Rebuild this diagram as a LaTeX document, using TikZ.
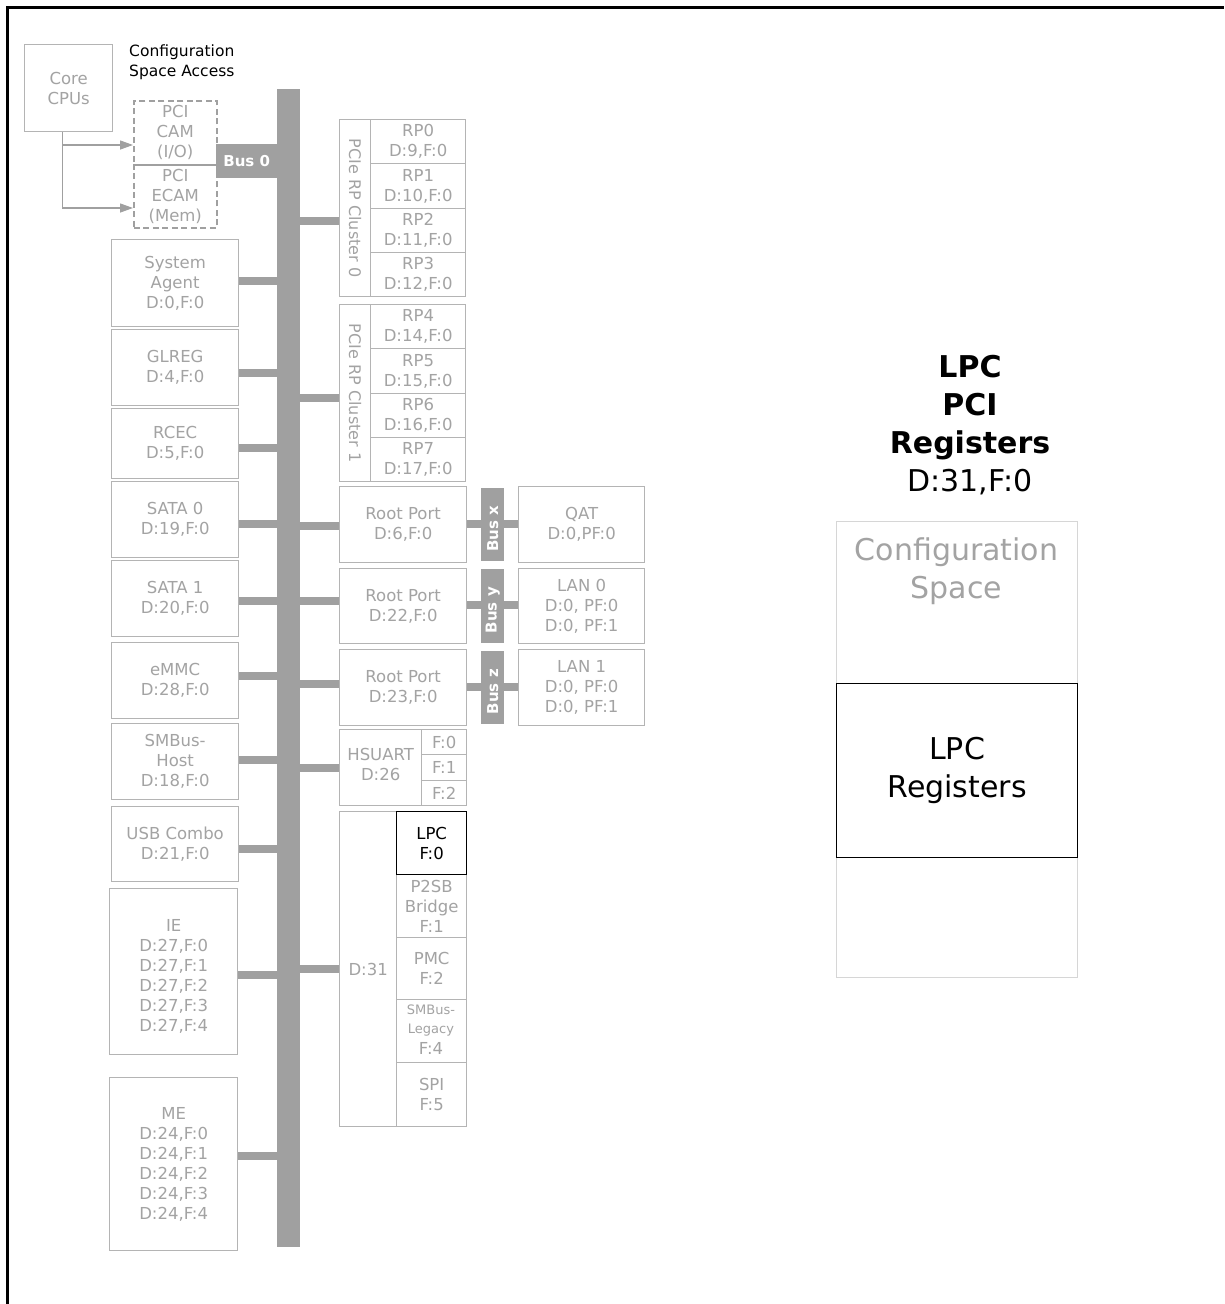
\documentclass[tikz,border=0pt]{standalone}
\usepackage{fontspec}
\setmainfont{DejaVu Sans}
\usetikzlibrary{arrows.meta}
\definecolor{busgray}{HTML}{A0A0A0}
\definecolor{boxgray}{HTML}{B4B4B4}
\definecolor{txtgray}{HTML}{A3A3A3}
\definecolor{lightbox}{HTML}{D6D6D6}
\begin{document}
\begin{tikzpicture}[x=1pt,y=-1pt,
  gbox/.style={draw=boxgray, line width=1.3pt, text=txtgray, inner sep=0pt, anchor=north west, align=center, font=\fontsize{16.5}{20}\selectfont},
  dbox/.style={gbox, draw=busgray, dash pattern=on 6pt off 3.5pt, line width=1.5pt},
  kbox/.style={gbox, draw=black, text=black},
  gtext/.style={text=txtgray, inner sep=0pt, align=center, font=\fontsize{16.5}{20}\selectfont},
  busbar/.style={fill=busgray, inner sep=0pt, anchor=north west, text=white, font=\bfseries\fontsize{15}{18}\selectfont},
  stub/.style={draw=busgray, line width=8.5pt},
  garrow/.style={draw=busgray, line width=1.3pt, -{Triangle[length=13pt,width=9pt]}},
  rlabel/.style={text=txtgray, font=\fontsize{16}{20}\selectfont, inner sep=0pt},
  smalltxt/.style={text=txtgray, font=\fontsize{13}{19}\selectfont, inner sep=0pt}
]
\useasboundingbox (0,0) rectangle (1224,1304);
\fill[white] (0,0) rectangle (1224,1304);
\draw[line width=3pt] (7,1304) -- (7,7) -- (1224,7);

% ---------- top-left: CPUs and config access
\node[gbox, minimum width=88pt, minimum height=87pt] (cpu) at (24,44) {Core\\CPUs};
\node[anchor=west, align=left, inner sep=0pt, font=\fontsize{15.5}{20}\selectfont] (csa) at (129,62) {Configuration\\Space Access};
\node[dbox, minimum width=83pt, minimum height=64pt] (cam) at (133,100) {PCI\\CAM\\(I/O)};
\node[dbox, minimum width=83pt, minimum height=63pt] (ecam) at (133,164) {PCI\\ECAM\\(Mem)};
\draw[garrow] ([xshift=-6pt]cpu.south) |- (cam.west |- 0,145);
\draw[garrow] ([xshift=-6pt]cpu.south) |- (ecam.west |- 0,208);

% ---------- main bus
\node[busbar, minimum width=23pt, minimum height=1158pt] (bus) at (277,89) {};
\node[busbar, minimum width=61pt, minimum height=34pt] (bus0) at (216,144) {Bus 0};

% ---------- left column
\node[gbox, minimum width=127pt, minimum height=87pt] (sa) at (111,239) {System\\Agent\\D:0,F:0};
\node[gbox, minimum width=127pt, minimum height=76pt] (glreg) at (111,329) {GLREG\\D:4,F:0};
\node[gbox, minimum width=127pt, minimum height=70pt] (rcec) at (111,408) {RCEC\\D:5,F:0};
\node[gbox, minimum width=127pt, minimum height=76pt] (sata0) at (111,481) {SATA 0\\D:19,F:0};
\node[gbox, minimum width=127pt, minimum height=76pt] (sata1) at (111,560) {SATA 1\\D:20,F:0};
\node[gbox, minimum width=127pt, minimum height=76pt] (emmc) at (111,642) {eMMC\\D:28,F:0};
\node[gbox, minimum width=127pt, minimum height=76pt] (smbh) at (111,723) {SMBus-\\Host\\D:18,F:0};
\node[gbox, minimum width=127pt, minimum height=75pt] (usb) at (111,806) {USB Combo\\D:21,F:0};
\node[gbox, minimum width=128pt, minimum height=166pt] (ie) at (109,888) {};
\node[gtext] (iet) at ([yshift=-5pt]ie.center) {IE\\D:27,F:0\\D:27,F:1\\D:27,F:2\\D:27,F:3\\D:27,F:4};
\node[gbox, minimum width=128pt, minimum height=173pt] (me) at (109,1077) {ME\\D:24,F:0\\D:24,F:1\\D:24,F:2\\D:24,F:3\\D:24,F:4};

\draw[stub] (sa.east |- 0,281) -- (bus.west |- 0,281);
\draw[stub] (glreg.east |- 0,373) -- (bus.west |- 0,373);
\draw[stub] (rcec.east |- 0,448) -- (bus.west |- 0,448);
\draw[stub] (sata0.east |- 0,524) -- (bus.west |- 0,524);
\draw[stub] (sata1.east |- 0,601) -- (bus.west |- 0,601);
\draw[stub] (emmc.east |- 0,676) -- (bus.west |- 0,676);
\draw[stub] (smbh.east |- 0,760) -- (bus.west |- 0,760);
\draw[stub] (usb.east |- 0,849) -- (bus.west |- 0,849);
\draw[stub] (ie.east |- 0,975) -- (bus.west |- 0,975);
\draw[stub] (me.east |- 0,1156) -- (bus.west |- 0,1156);

% ---------- PCIe clusters
\node[gbox, minimum width=126pt, minimum height=177pt] (c0) at (339,119) {};
\node[gbox, minimum width=31pt, minimum height=177pt] (c0l) at (339,119) {};
\node[rlabel, rotate=-90] (c0t) at (c0l.center) {PCIe RP Cluster 0};
\node[gbox, minimum width=95pt, minimum height=44pt] (rp0) at (370,119) {RP0\\D:9,F:0};
\node[gbox, minimum width=95pt, minimum height=45pt] (rp1) at (370,163) {RP1\\D:10,F:0};
\node[gbox, minimum width=95pt, minimum height=44pt] (rp2) at (370,208) {RP2\\D:11,F:0};
\node[gbox, minimum width=95pt, minimum height=44pt] (rp3) at (370,252) {RP3\\D:12,F:0};

\node[gbox, minimum width=126pt, minimum height=177pt] (c1) at (339,304) {};
\node[gbox, minimum width=31pt, minimum height=177pt] (c1l) at (339,304) {};
\node[rlabel, rotate=-90] (c1t) at (c1l.center) {PCIe RP Cluster 1};
\node[gbox, minimum width=95pt, minimum height=44pt] (rp4) at (370,304) {RP4\\D:14,F:0};
\node[gbox, minimum width=95pt, minimum height=45pt] (rp5) at (370,348) {RP5\\D:15,F:0};
\node[gbox, minimum width=95pt, minimum height=44pt] (rp6) at (370,393) {RP6\\D:16,F:0};
\node[gbox, minimum width=95pt, minimum height=44pt] (rp7) at (370,437) {RP7\\D:17,F:0};

\draw[stub] (bus.east |- 0,221) -- (c0.west |- 0,221);
\draw[stub] (bus.east |- 0,398) -- (c1.west |- 0,398);

% ---------- root ports and secondary buses
\node[gbox, minimum width=127pt, minimum height=76pt] (rpa) at (339,486) {Root Port\\D:6,F:0};
\node[gbox, minimum width=127pt, minimum height=75pt] (rpb) at (339,568) {Root Port\\D:22,F:0};
\node[gbox, minimum width=127pt, minimum height=76pt] (rpc) at (339,649) {Root Port\\D:23,F:0};
\node[gbox, minimum width=126pt, minimum height=76pt] (qat) at (518,486) {QAT\\D:0,PF:0};
\node[gbox, minimum width=126pt, minimum height=75pt] (lan0) at (518,568) {LAN 0\\D:0, PF:0\\D:0, PF:1};
\node[gbox, minimum width=126pt, minimum height=76pt] (lan1) at (518,649) {LAN 1\\D:0, PF:0\\D:0, PF:1};

\draw[stub] (bus.east |- 0,526) -- (rpa.west |- 0,526);
\draw[stub] (bus.east |- 0,601) -- (rpb.west |- 0,601);
\draw[stub] (bus.east |- 0,684) -- (rpc.west |- 0,684);

\draw[stub] (rpa.east |- 0,524) -- (qat.west |- 0,524);
\draw[stub] (rpb.east |- 0,605) -- (lan0.west |- 0,605);
\draw[stub] (rpc.east |- 0,687) -- (lan1.west |- 0,687);

\node[busbar, minimum width=23pt, minimum height=73pt] (busx) at (481,488) {};
\node[busbar, minimum width=23pt, minimum height=74pt] (busy) at (481,569) {};
\node[busbar, minimum width=23pt, minimum height=73pt] (busz) at (481,651) {};
\node[text=white, font=\bfseries\fontsize{15}{18}\selectfont, rotate=90, inner sep=0pt] (busxt) at ([yshift=-4pt]busx.center) {Bus x};
\node[text=white, font=\bfseries\fontsize{15}{18}\selectfont, rotate=90, inner sep=0pt] (busyt) at ([yshift=-4pt]busy.center) {Bus y};
\node[text=white, font=\bfseries\fontsize{15}{18}\selectfont, rotate=90, inner sep=0pt] (buszt) at ([yshift=-4pt]busz.center) {Bus z};

% ---------- HSUART
\node[gbox, minimum width=127pt, minimum height=76pt] (hs) at (339,729) {};
\node[gbox, draw=none, minimum width=82pt, minimum height=70pt] (hst) at (339,729) {HSUART\\D:26};
\node[gbox, minimum width=45pt, minimum height=25pt] (hf0) at (421,729) {F:0};
\node[gbox, minimum width=45pt, minimum height=26pt] (hf1) at (421,754) {F:1};
\node[gbox, minimum width=45pt, minimum height=25pt] (hf2) at (421,780) {F:2};
\draw[stub] (bus.east |- 0,768) -- (hs.west |- 0,768);

% ---------- D:31
\node[gbox, minimum width=127pt, minimum height=315pt] (d31) at (339,811) {};
\node[gbox, minimum width=57pt, minimum height=315pt] (d31l) at (339,811) {D:31};
\node[gbox, minimum width=70pt, minimum height=63pt] (p2sb) at (396,874) {P2SB\\Bridge\\F:1};
\node[gbox, minimum width=70pt, minimum height=62pt] (pmc) at (396,937) {PMC\\F:2};
\node[gbox, minimum width=70pt, minimum height=63pt] (smbl) at (396,999) {};
\node[smalltxt, align=center, anchor=north] (smblt) at (431,1005) {SMBus-\\Legacy};
\node[gtext] (smblf) at (431,1048) {F:4};
\node[gbox, minimum width=70pt, minimum height=64pt] (spi) at (396,1062) {SPI\\F:5};
\node[kbox, minimum width=70pt, minimum height=63pt] (lpc) at (396,811) {LPC\\F:0};
\draw[stub] (bus.east |- 0,969) -- (d31.west |- 0,969);

% ---------- right side detail
\node[align=center, inner sep=0pt, font=\fontsize{30}{38}\selectfont] (title) at (970,425)
  {\textbf{LPC}\\\textbf{PCI}\\\textbf{Registers}\\D:31,F:0};
\node[gbox, draw=lightbox, minimum width=241pt, minimum height=456pt] (cfg) at (836,521) {};
\node[text=txtgray, align=center, inner sep=0pt, font=\fontsize{30}{38}\selectfont] (cfgt) at (956.5,571) {Configuration\\Space};
\node[kbox, minimum width=241pt, minimum height=174pt, font=\fontsize{30}{38}\selectfont] (lpcreg) at (836,683) {LPC\\Registers};
\end{tikzpicture}
\end{document}
